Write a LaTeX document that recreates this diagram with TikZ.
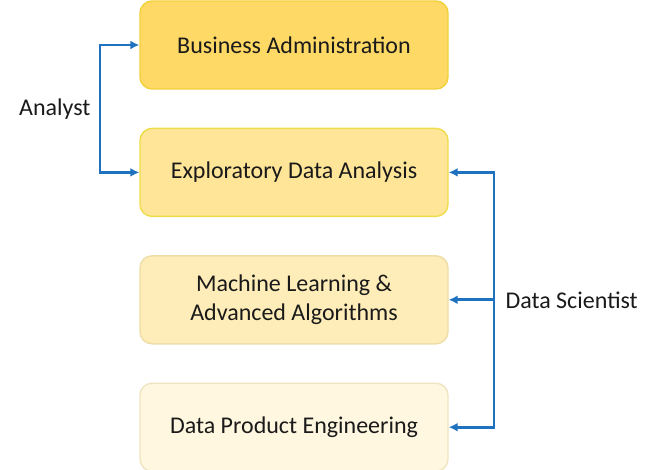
\documentclass[tikz,border=0pt]{standalone}
\usepackage{fontspec}
\setmainfont{Carlito}
\usepackage{tikz}
\usetikzlibrary{arrows,arrows.meta,calc,positioning}
\definecolor{linkblue}{HTML}{1F72C0}
\definecolor{inkdark}{HTML}{1A1A1A}
\definecolor{fillA}{HTML}{FFD966}
\definecolor{lineA}{HTML}{F2D03A}
\definecolor{fillB}{HTML}{FFE597}
\definecolor{lineB}{HTML}{EEDC4A}
\definecolor{fillC}{HTML}{FFEDB9}
\definecolor{lineC}{HTML}{EEDDA6}
\definecolor{fillD}{HTML}{FFF7DF}
\definecolor{lineD}{HTML}{F0E4C2}
\tikzset{%
	stage/.style = {draw, rectangle, rounded corners=12pt, minimum width=308pt, minimum height=88pt, text centered, align=center, line width=1.4pt, text=inkdark, font=\fontsize{24}{29}\selectfont},
	role/.style  = {text=inkdark, font=\fontsize{24}{29}\selectfont},
	arrow/.style = {line width=2.8pt, draw=linkblue, {Latex[length=9pt,width=9pt]}-{Latex[length=9pt,width=9pt]}},
	tip/.style   = {line width=2.8pt, draw=linkblue, -{Latex[length=9pt,width=9pt]}},
}
\begin{document}
\begin{tikzpicture}[x=1pt,y=-1pt]
		\useasboundingbox (0,0) rectangle (660,470);
		\node[stage, fill=fillA, draw=lineA] (bus) at (294,45) {Business Administration};
		\node[stage, fill=fillB, draw=lineB, below=38pt of bus] (eda) {Exploratory Data Analysis};
		\node[stage, fill=fillC, draw=lineC, below=38pt of eda] (mla) {Machine Learning \&\\Advanced Algorithms};
		\node[stage, fill=fillD, draw=lineD, below=38pt of mla] (dpe) {Data Product Engineering};
		
		\coordinate (ana) at (100,0);
		\coordinate (sci) at (494,0);
		
		\draw[arrow] (bus.west) -- (bus.west -| ana) -- (eda.west -| ana) -- (eda.west);
		\node[role, left=6pt of $(bus.west -| ana)!0.5!(eda.west -| ana)$] (analyst) {Analyst};
		
		\draw[arrow] (eda.east) -- (eda.east -| sci) -- (dpe.east -| sci) -- (dpe.east);
		\draw[tip] (mla.east -| sci) -- (mla.east);
		\node[role, right=8pt of mla.east -| sci] (scientist) {Data Scientist};
		
		\end{tikzpicture}
\end{document}
